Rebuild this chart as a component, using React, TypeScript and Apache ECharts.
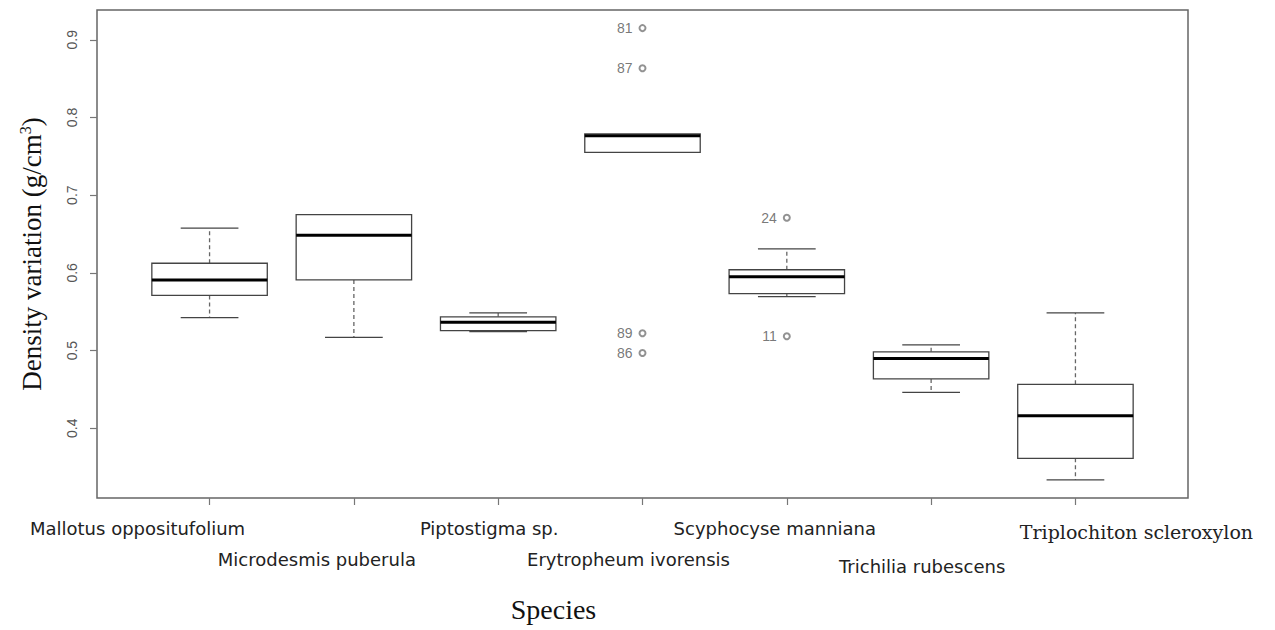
import React, { useEffect, useRef } from "react";
import * as echarts from "echarts";

// ---- data ----
const categories = [
  "Mallotus oppositufolium",
  "Microdesmis puberula",
  "Piptostigma sp.",
  "Erytropheum ivorensis",
  "Scyphocyse manniana",
  "Trichilia rubescens",
  "Triplochiton scleroxylon",
];
const whiskerLow = [0.5425, 0.517, 0.5245, 0.755, 0.5695, 0.4463, 0.3336];
const q1 = [0.571, 0.591, 0.5258, 0.755, 0.5734, 0.4636, 0.3614];
const median = [0.591, 0.6485, 0.5365, 0.7764, 0.595, 0.4897, 0.416];
const q3 = [0.6124, 0.675, 0.5434, 0.779, 0.604, 0.4984, 0.4566];
const whiskerHigh = [0.6575, 0.675, 0.5485, 0.779, 0.631, 0.5074, 0.5485];

const outlierCategory = [4, 4, 4, 4, 5, 5];
const outlierValue = [0.915, 0.8634, 0.5223, 0.497, 0.671, 0.5184];
const outlierId = ["81", "87", "89", "86", "24", "11"];

const yTicks = [0.4, 0.5, 0.6, 0.7, 0.8, 0.9];
const xTicks = [1, 2, 3, 4, 5, 6, 7];

// ---- layout of the staggered category labels (px offsets) ----
const labelDx = [-72, -37, -9, -14, -12, -9, 61];
const labelDy = [0, 31, -3, 31, 0, 38, 3];
const labelSerif = [false, false, false, false, false, false, true];

export default function App() {
  const ref = useRef<HTMLDivElement>(null);
  useEffect(() => {
    if (!ref.current) return;
    const chart = echarts.init(ref.current, null, { renderer: "svg" });

    const rich: any = {};
    categories.forEach((c, i) => {
      const dx = labelDx[i];
      rich["l" + i] = {
        fontFamily: labelSerif[i] ? "DejaVu Serif" : "DejaVu Sans",
        fontSize: labelSerif[i] ? 19 : 18,
        color: "#222",
        padding: [Math.max(0, labelDy[i]), dx < 0 ? -2 * dx : 0, 0, dx > 0 ? 2 * dx : 0],
      };
    });

    const boxData = categories.map((c, i) => [
      i + 1,
      whiskerLow[i],
      q1[i],
      median[i],
      q3[i],
      whiskerHigh[i],
    ]);

    const option: any = {
      animation: false,
      backgroundColor: "#fff",
      grid: {
        left: 97,
        right: 87,
        top: 10,
        bottom: 132,
        show: true,
        borderColor: "#666",
        borderWidth: 1.5,
        backgroundColor: "transparent",
      },
      xAxis: {
        type: "value",
        min: 0.22,
        max: 7.78,
        axisLine: { show: false },
        splitLine: { show: false },
        axisTick: {
          show: true,
          customValues: xTicks,
          length: 7,
          lineStyle: { color: "#777", width: 1.2 },
        },
        axisLabel: {
          customValues: xTicks,
          margin: 21,
          formatter: (v: number) => {
            const i = Math.round(v) - 1;
            return "{l" + i + "|" + categories[i] + "}";
          },
          rich,
        },
        name: "Species",
        nameLocation: "middle",
        nameGap: 97,
        nameTextStyle: {
          fontFamily: "Liberation Serif",
          fontSize: 28,
          color: "#111",
          padding: [0, 178, 0, 0],
        },
      },
      yAxis: {
        type: "value",
        min: 0.3103,
        max: 0.9383,
        axisLine: { show: false },
        splitLine: { show: false },
        axisTick: {
          show: true,
          customValues: yTicks,
          length: 7,
          lineStyle: { color: "#777", width: 1.2 },
        },
        axisLabel: {
          customValues: yTicks,
          rotate: 90,
          margin: 18,
          color: "#555",
          fontFamily: "Liberation Sans",
          fontSize: 14,
          formatter: (v: number) => v.toFixed(1),
        },
        name: "{a|Density variation (g/cm}{s|3}{a|)}",
        nameLocation: "middle",
        nameRotate: 90,
        nameGap: 51,
        nameTextStyle: {
          rich: {
            a: { fontFamily: "Liberation Serif", fontSize: 27, color: "#111" },
            s: {
              fontFamily: "Liberation Serif",
              fontSize: 16,
              color: "#111",
              padding: [0, 0, 13, 0],
            },
          },
        },
      },
      series: [
        {
          type: "custom",
          clip: false,
          data: boxData,
          encode: { x: 0, y: [1, 2, 3, 4, 5] },
          renderItem: (params: any, api: any) => {
            const x = api.value(0);
            const pLo = api.coord([x, api.value(1)]);
            const pQ1 = api.coord([x, api.value(2)]);
            const pMed = api.coord([x, api.value(3)]);
            const pQ3 = api.coord([x, api.value(4)]);
            const pHi = api.coord([x, api.value(5)]);
            const half = api.size([0.8, 0])[0] / 2;
            const cap = half / 2;
            const cx = pMed[0];
            const lineC = "#444";
            const children: any[] = [];
            if (Math.abs(pHi[1] - pQ3[1]) > 1) {
              children.push({
                type: "line",
                shape: { x1: cx, y1: pQ3[1], x2: cx, y2: pHi[1] },
                style: { stroke: "#666", lineWidth: 1.3, lineDash: [4, 3] },
              });
              children.push({
                type: "line",
                shape: { x1: cx - cap, y1: pHi[1], x2: cx + cap, y2: pHi[1] },
                style: { stroke: lineC, lineWidth: 1.3 },
              });
            }
            if (Math.abs(pLo[1] - pQ1[1]) > 0.5) {
              children.push({
                type: "line",
                shape: { x1: cx, y1: pQ1[1], x2: cx, y2: pLo[1] },
                style: { stroke: "#666", lineWidth: 1.3, lineDash: [4, 3] },
              });
              children.push({
                type: "line",
                shape: { x1: cx - cap, y1: pLo[1], x2: cx + cap, y2: pLo[1] },
                style: { stroke: lineC, lineWidth: 1.3 },
              });
            }
            children.push({
              type: "rect",
              shape: {
                x: cx - half,
                y: pQ3[1],
                width: 2 * half,
                height: pQ1[1] - pQ3[1],
              },
              style: { fill: "#fff", stroke: lineC, lineWidth: 1.3 },
            });
            children.push({
              type: "line",
              shape: { x1: cx - half, y1: pMed[1], x2: cx + half, y2: pMed[1] },
              style: { stroke: "#000", lineWidth: 3 },
            });
            return { type: "group", children };
          },
        },
        {
          type: "scatter",
          data: outlierCategory.map((c, i) => [c, outlierValue[i]]),
          symbol: "emptyCircle",
          symbolSize: 6,
          itemStyle: { color: "#777", borderWidth: 0.8 },
          label: {
            show: true,
            position: "left",
            distance: 6,
            color: "#555",
            fontFamily: "Liberation Sans",
            fontSize: 14,
            formatter: (p: any) => outlierId[p.dataIndex],
          },
          z: 5,
        },
      ],
    };
    chart.setOption(option);
    return () => chart.dispose();
  }, []);
  return (
    <div
      ref={ref}
      style={{ position: "fixed", left: 0, top: 0, width: 1275, height: 630, background: "#fff" }}
    />
  );
}
